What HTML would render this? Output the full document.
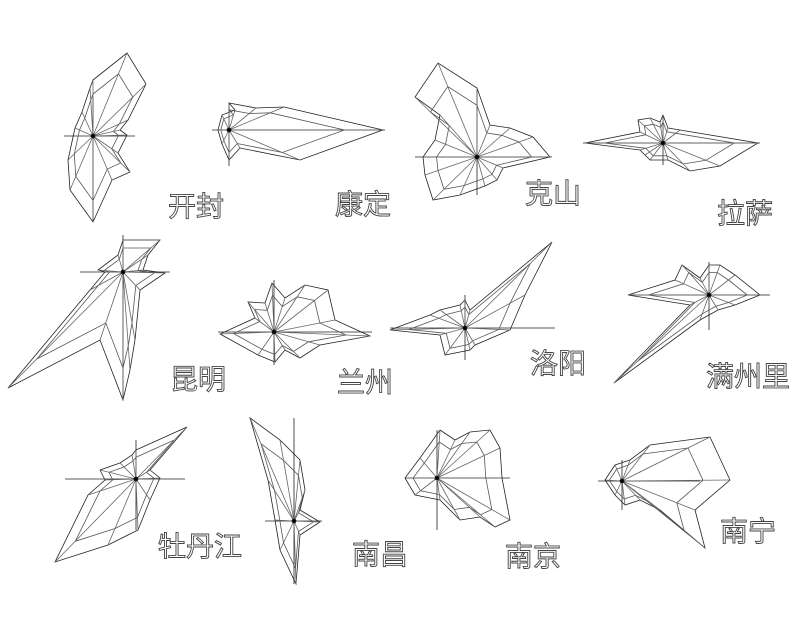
<!DOCTYPE html>
<html><head><meta charset="utf-8"><style>
html,body{margin:0;padding:0;background:#fff;width:800px;height:640px;overflow:hidden}
svg{display:block}
text{font-family:"Liberation Sans","Noto Sans CJK SC",sans-serif;font-size:28px;fill:#fff;stroke:#444;stroke-width:0.9}
</style></head><body>
<svg id="s" width="800" height="640" viewBox="0 0 800 640" xmlns="http://www.w3.org/2000/svg">
<g id="g" fill="none" stroke="#222" stroke-width="0.8"></g>
<text x="168" y="216">开封</text>
<text x="335" y="214">康定</text>
<text x="525" y="203">克山</text>
<text x="717" y="223">拉萨</text>
<text x="170" y="389">昆明</text>
<text x="337" y="392">兰州</text>
<text x="530" y="373">洛阳</text>
<text x="706" y="386">满州里</text>
<text x="158" y="556">牡丹江</text>
<text x="352" y="564">南昌</text>
<text x="505" y="566">南京</text>
<text x="720" y="541">南宁</text>
</svg>
<script>
var R=[
[[93,136],[64,135,97,222],[[93,80],[127,53],[146,84],[128,120],[120,130],[127,135],[118,153],[130,172],[112,180],[93,222],[70,190],[68,160],[75,128],[82,112],[90,88]]],
[[229,130],[212,385,103,166],[[229,103],[256,108],[284,107],[383,130],[300,160],[240,148],[229,160],[222,144],[218,130],[222,115],[235,110]]],
[[477,157],[415,552,88,195],[[477,88],[490,125],[510,128],[533,137],[550,157],[503,168],[497,180],[485,186],[460,195],[433,200],[425,175],[423,157],[435,140],[440,115],[415,97],[438,63]]],
[[663,143],[583,760,115,165],[[663,115],[668,128],[680,130],[758,143],[720,166],[690,171],[668,160],[650,160],[645,155],[640,150],[585,143],[640,132],[638,120],[650,118],[660,122]]],
[[123,272],[80,170,235,400],[[123,240],[160,240],[148,255],[143,270],[165,273],[140,290],[135,340],[130,370],[123,400],[100,340],[8,388],[90,290],[105,272],[98,270],[118,255]]],
[[274,332],[218,372,280,365],[[272,283],[285,298],[305,285],[328,290],[335,320],[370,336],[320,345],[300,358],[285,350],[275,362],[258,355],[220,334],[255,318],[248,302],[265,303]]],
[[465,328],[390,555,295,360],[[465,300],[470,310],[552,242],[525,295],[510,330],[475,345],[470,350],[445,355],[440,335],[390,330],[430,315],[440,310],[460,305]]],
[[709,295],[628,770,262,330],[[709,265],[720,265],[735,275],[760,295],[735,305],[718,310],[700,320],[614,383],[690,305],[628,295],[675,280],[682,265],[700,278]]],
[[136,479],[65,185,440,530],[[136,450],[187,427],[150,470],[160,478],[150,500],[138,530],[108,545],[55,562],[88,495],[105,480],[100,470],[120,463],[132,455]]],
[[294,521],[265,322,418,584],[[250,418],[280,440],[300,460],[305,490],[300,510],[320,522],[300,535],[296,584],[280,550],[275,520],[268,480]]],
[[437,478],[405,510,430,530],[[440,430],[455,440],[470,432],[490,430],[500,448],[502,478],[510,520],[495,527],[480,517],[460,520],[440,500],[415,495],[405,478],[420,458]]],
[[622,481],[598,700,460,510],[[630,460],[650,445],[710,437],[730,480],[695,510],[705,548],[660,510],[640,500],[625,505],[615,495],[605,480],[615,465]]]
];
var g=document.getElementById('g'),ns='http://www.w3.org/2000/svg',h='';
R.forEach(function(r){var c=r[0],b=r[1],p=r[2];
h+='<line x1="'+b[0]+'" y1="'+c[1]+'" x2="'+b[1]+'" y2="'+c[1]+'"/>';
h+='<line x1="'+c[0]+'" y1="'+b[2]+'" x2="'+c[0]+'" y2="'+b[3]+'"/>';
h+='<polygon points="'+p.map(function(q){return q.join(',')}).join(' ')+'"/>';
h+='<polygon points="'+p.map(function(q){return (c[0]+(q[0]-c[0])*0.75).toFixed(1)+','+(c[1]+(q[1]-c[1])*0.75).toFixed(1)}).join(' ')+'" stroke="#555"/>';
p.forEach(function(q){h+='<line x1="'+c[0]+'" y1="'+c[1]+'" x2="'+q[0]+'" y2="'+q[1]+'" stroke="#666"/>';});
h+='<circle cx="'+c[0]+'" cy="'+c[1]+'" r="2" fill="#000"/>';
});
g.innerHTML=h;
</script>
</body></html>
